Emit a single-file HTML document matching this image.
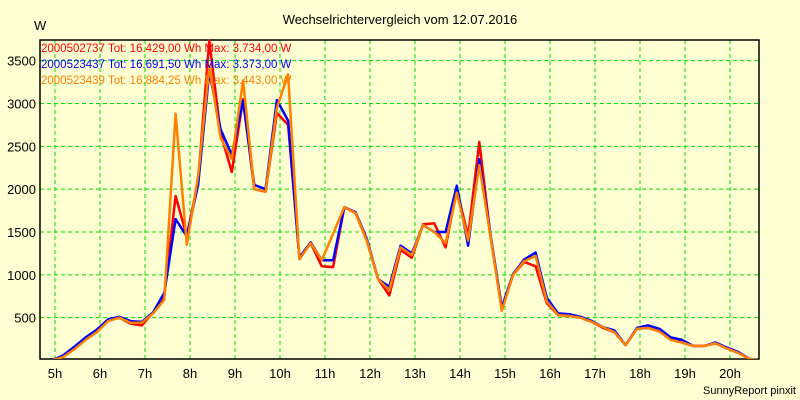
<!DOCTYPE html>
<html><head><meta charset="utf-8"><style>
body{margin:0;background:#ffffd4;}
svg{display:block;font-family:"Liberation Sans",sans-serif;}
</style></head><body>
<svg id="chart" width="800" height="400">
<rect width="800" height="400" fill="#ffffd4"/>
<text x="400" y="24" font-size="13" text-anchor="middle">Wechselrichtervergleich vom 12.07.2016</text>
<text x="34" y="30" font-size="13">W</text>
<g id="grid"></g><g id="axes"></g><g id="series"></g><g id="legend"></g>
<text x="796" y="394" font-size="11" text-anchor="end">SunnyReport pinxit</text>
</svg>
<script>
const hourTicks=[5,6,7,8,9,10,11,12,13,14,15,16,17,18,19,20];
const yTicks=[500,1000,1500,2000,2500,3000,3500];
const startHour=4.68, stepHours=0.25;
const redVals=[0,0,50,140,250,340,470,500,430,410,560,750,1920,1450,2100,3734,2650,2200,3050,2000,1970,2890,2750,1200,1370,1100,1090,1790,1720,1400,950,760,1290,1200,1590,1600,1320,2000,1450,2550,1440,600,1000,1150,1100,670,530,520,500,450,380,330,180,370,380,340,250,210,170,170,200,140,90,20,0];
const blueVals=[0,0,60,160,270,360,480,510,460,450,560,790,1650,1450,2050,3373,2700,2400,3030,2050,2000,3040,2800,1200,1380,1170,1170,1790,1730,1420,950,860,1340,1250,1580,1500,1500,2040,1340,2350,1460,620,1010,1180,1260,730,550,540,510,460,390,350,180,380,410,370,270,240,170,170,210,150,100,20,0];
const orangeVals=[0,0,40,130,240,330,460,500,440,440,550,710,2880,1350,2150,3440,2600,2350,3270,2000,1970,2950,3340,1180,1370,1170,1480,1790,1720,1400,950,820,1320,1230,1580,1500,1370,1960,1400,2280,1440,580,1000,1160,1220,690,530,520,500,450,390,330,180,370,380,340,240,210,170,170,200,140,90,20,0];
const legendLabels=["2000502737 Tot: 16.429,00 Wh Max: 3.734,00 W","2000523437 Tot: 16.691,50 Wh Max: 3.373,00 W","2000523439 Tot: 16.884,25 Wh Max: 3.443,00 W"];
const L=40,T=40,R=759,B=359;
const x=h=>55+(h-5)*45;
const y=v=>360.5-v*0.08567;
const NS="http://www.w3.org/2000/svg";
function mk(tag,attrs,parent){const e=document.createElementNS(NS,tag);for(const k in attrs)e.setAttribute(k,attrs[k]);parent.appendChild(e);return e;}
const grid=document.getElementById('grid'),axes=document.getElementById('axes'),series=document.getElementById('series'),legend=document.getElementById('legend');
hourTicks.forEach(h=>{
 const l=mk('line',{x1:x(h),x2:x(h),y1:T,y2:B,stroke:'#00e000','stroke-dasharray':'4,3'},grid);
 
 
 const t=mk('text',{x:x(h),y:378,'font-size':13,'text-anchor':'middle'},axes);
 t.textContent=h+'h';
 
 
});
yTicks.forEach(v=>{
 const l=mk('line',{x1:L,x2:R,y1:y(v),y2:y(v),stroke:'#00e000','stroke-dasharray':'4,3'},grid);
 
 
 const t=mk('text',{x:36,y:y(v)+5,'font-size':13,'text-anchor':'end'},axes);
 t.textContent=v;
 
 
});
const box=mk('rect',{x:L,y:T,width:R-L,height:B-T,fill:'none',stroke:'#000','stroke-width':1.5},axes);


const colors=['#ff0000','#0000ff','#ff8000'];
const names=['series-2000502737','series-2000523437','series-2000523439'];
[redVals,blueVals,orangeVals].forEach((vals,i)=>{
 const pts=vals.map((v,k)=>x(startHour+k*stepHours).toFixed(1)+','+y(v).toFixed(1)).join(' ');
 const p=mk('polyline',{points:pts,fill:'none',stroke:colors[i],'stroke-width':2.5,'stroke-linejoin':'round'},series);
 
 
});
const cp=mk('clipPath',{id:'clip'},document.getElementById('chart'));
mk('rect',{x:L,y:T-2,width:R-L,height:B-T+2},cp);
series.setAttribute('clip-path','url(#clip)');
legendLabels.forEach((s,i)=>{
 const t=mk('text',{x:41,y:52+i*16,'font-size':11.5,fill:colors[i]},legend);
 t.textContent=s;
 
 
});
</script>
</body></html>
